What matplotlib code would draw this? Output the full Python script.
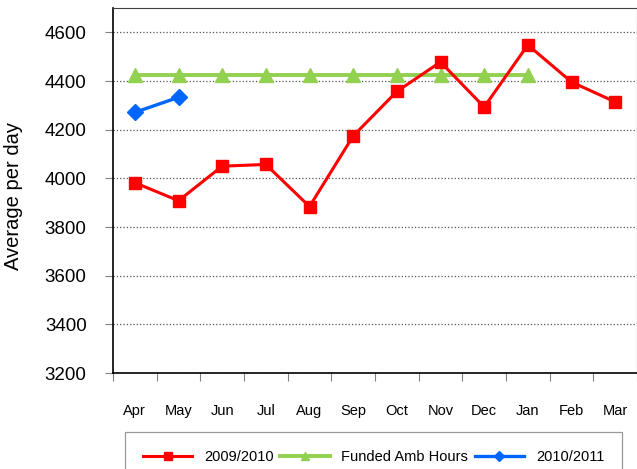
import numpy as np
import matplotlib
matplotlib.use('Agg')
import matplotlib.pyplot as plt

plt.rcParams['font.family'] = ['Liberation Sans', 'DejaVu Sans']

# data
bulan = ['Apr', 'May', 'Jun', 'Jul', 'Aug', 'Sep', 'Oct', 'Nov', 'Dec', 'Jan', 'Feb', 'Mar']
thn_0910 = [3982, 3908, 4050, 4057, 3884, 4174, 4357, 4478, 4293, 4548, 4396, 4314]
funded_hours = [4425, 4425, 4425, 4425, 4425, 4425, 4425, 4425, 4425, 4425]
thn_1011 = [4271, 4333]
yticks = [3200, 3400, 3600, 3800, 4000, 4200, 4400, 4600]

W, H = 637, 469
fig = plt.figure(figsize=(W / 100, H / 100), dpi=100)
ax = fig.add_axes([113 / W, 1 - 373 / H, (W - 113) / W, (373 - 8) / H])

x = np.arange(len(bulan))
ax.plot(x, thn_0910, color='#FF0000', lw=2.2, marker='s', ms=9, label='2009/2010', zorder=3)
ax.plot(x[:len(funded_hours)], funded_hours, color='#92D050', lw=2.8, marker='^', ms=10,
        label='Funded Amb Hours', zorder=2)
ax.plot(x[:len(thn_1011)], thn_1011, color='#0066FF', lw=2.4, marker='D', ms=8,
        label='2010/2011', zorder=4)

ax.set_xlim(-0.5, len(bulan) - 0.5)
ax.set_ylim(3200, 4700)
ax.set_yticks(yticks)
ax.tick_params(axis='y', labelsize=13.5, length=6, width=0.8, color='#808080', pad=13)
ax.set_xticks(x)
ax.set_xticklabels(bulan)
ax.set_xticks(np.arange(-0.5, len(bulan)), minor=True)
ax.tick_params(axis='x', which='major', length=0, labelsize=10.5, pad=22)
ax.tick_params(axis='x', which='minor', length=6, width=0.8, color='#808080')
ax.yaxis.grid(True, linestyle=':', color='#555555', lw=0.9)
ax.set_axisbelow(True)

for s in ['left', 'bottom']:
    ax.spines[s].set_color('black')
    ax.spines[s].set_linewidth(1.2)
for s in ['top', 'right']:
    ax.spines[s].set_color('#404040')
    ax.spines[s].set_linewidth(0.8)

ax.set_ylabel('Average per day', fontsize=14.5)
ax.yaxis.set_label_coords(-0.172, 0.485)

leg = fig.legend(loc='upper left', bbox_to_anchor=(118 / W, 1 - 425 / H - 0.12, 511 / W, 0.12),
                 mode='expand', ncol=3, fontsize=10.5, handlelength=3.4, frameon=True,
                 fancybox=False, edgecolor='#808080', borderpad=1.2, markerscale=0.6)
leg.get_frame().set_linewidth(0.9)

fig.savefig('out.png', dpi=100)
